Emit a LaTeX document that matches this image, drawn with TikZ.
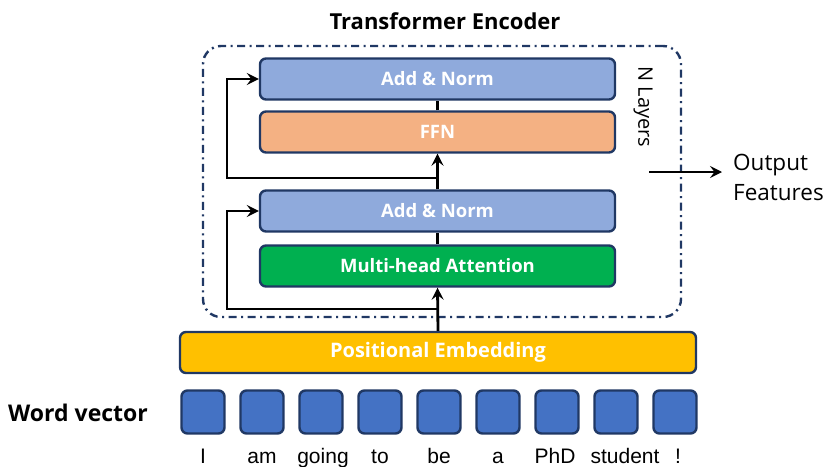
\documentclass[tikz,border=0pt]{standalone}
\usepackage{fontspec}
\setmainfont{Open Sans}
\newfontfamily\wordfont{Liberation Sans}
\usetikzlibrary{arrows.meta,calc}

\definecolor{navy}{HTML}{203864}
\definecolor{addnorm}{HTML}{8FAADC}
\definecolor{ffncol}{HTML}{F4B183}
\definecolor{mhacol}{HTML}{00B050}
\definecolor{pecol}{HTML}{FFC000}
\definecolor{veccol}{HTML}{4472C4}

\begin{document}
\begin{tikzpicture}[x=1pt,y=-1pt,
  block/.style={draw=navy, line width=2.4pt, rounded corners=6pt,
    minimum width=355pt, minimum height=41pt, inner sep=0pt,
    text=white, font=\bfseries\fontsize{18.5}{18.5}\selectfont},
  vecbox/.style={draw=navy, line width=2.4pt, rounded corners=6pt, fill=veccol,
    minimum width=43pt, minimum height=43pt, inner sep=0pt},
  word/.style={anchor=base, inner sep=0pt, font=\wordfont\fontsize{21}{21}\selectfont},
  link/.style={line width=2.8pt, black},
  arr/.style={link, -{Stealth[length=12pt, width=12pt, inset=4.5pt]}},
  encbox/.style={draw=navy, line width=2.4pt, rounded corners=18pt,
    dash pattern=on 8pt off 4.5pt on 2pt off 4.5pt,
    minimum width=478pt, minimum height=271pt, inner sep=0pt}
]
\useasboundingbox (0,0) rectangle (827,466);

% encoder frame and title
\node[encbox] (enc) at (442,181.5) {};
\node[font=\bfseries\fontsize{22}{22}\selectfont] (title) at (445,21) {Transformer Encoder};
\node[rotate=-90, font=\fontsize{20}{20}\selectfont] (nlayers) at (643,107) {N Layers};

% encoder layer blocks
\node[block, fill=addnorm] (an1) at (437.5,79) {Add \& Norm};
\node[block, fill=ffncol] (ffn) at (437.5,132) {FFN};
\node[block, fill=addnorm] (an2) at (437.5,211) {Add \& Norm};
\node[block, fill=mhacol, font=\bfseries\fontsize{18.5}{18.5}\selectfont] (mha) at (437.5,266) {Multi-head Attention};

% embedding bar
\node[block, fill=pecol, minimum width=516pt, font=\bfseries\fontsize{20}{20}\selectfont] (pe) at (438,352.5) {Positional Embedding};

% word vectors
\node[anchor=west, inner sep=0pt, font=\bfseries\fontsize{23}{23}\selectfont] (wvlabel) at (8,413) {Word vector};
\foreach \i/\w/\dx in {0/I/0,1/am/0,2/going/2,3/to/0,4/be/0,5/a/0,6/PhD/-2,7/student/9,8/!/3} {
  \node[vecbox] (v\i) at (203+59*\i,412) {};
  \node[word] (w\i) at (203+59*\i+\dx,463) {\w};
}

% main data path
\coordinate (j1) at (438,309);
\coordinate (r1) at (227,309);
\coordinate (j2) at (438,178);
\coordinate (r2) at (227,178);

\draw[arr] (pe.north) -- (mha.south);
\draw[arr] (j1) -- (r1) |- (an2.west);
\draw[link] (mha.north) -- (an2.south);
\draw[arr] (an2.north) -- (ffn.south);
\draw[arr] (j2) -- (r2) |- (an1.west);
\draw[link] (ffn.north) -- (an1.south);

% output
\node[anchor=west, align=left, inner sep=0pt, font=\fontsize{22.5}{30}\selectfont] (out) at (733,177) {Output\\Features};
\coordinate (o1) at (649,172);
\draw[arr, shorten >=11pt] (o1) -- (out.west |- o1);
\end{tikzpicture}
\end{document}
